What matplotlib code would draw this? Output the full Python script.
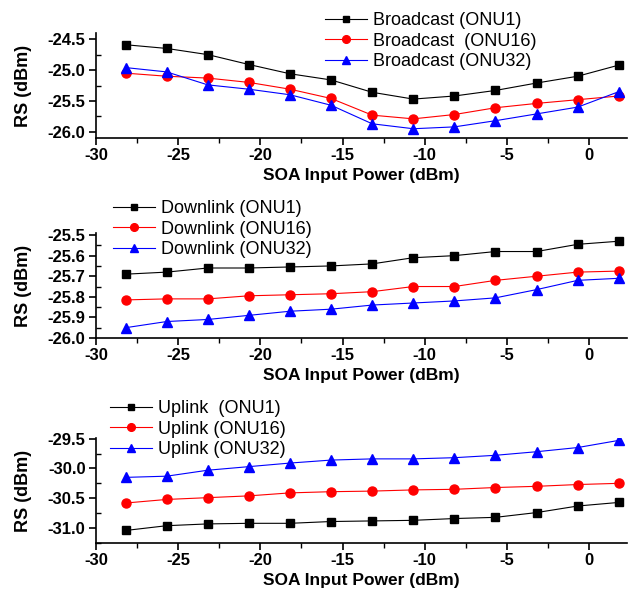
import matplotlib
matplotlib.use("Agg")
import matplotlib.pyplot as plt
from matplotlib.ticker import MultipleLocator, FormatStrFormatter

plt.rcParams['font.family'] = ['Liberation Sans', 'DejaVu Sans']
plt.rcParams['axes.unicode_minus'] = False

soa_power = [-28.2, -25.7, -23.2, -20.7, -18.2, -15.7, -13.2, -10.7, -8.2, -5.7, -3.2, -0.7, 1.8]

broadcast_onu1 = [-24.59, -24.65, -24.75, -24.91, -25.06, -25.16, -25.36, -25.47, -25.42, -25.33, -25.21, -25.10, -24.92]
broadcast_onu16 = [-25.05, -25.10, -25.13, -25.20, -25.31, -25.46, -25.73, -25.79, -25.72, -25.61, -25.54, -25.48, -25.42]
broadcast_onu32 = [-24.96, -25.03, -25.24, -25.31, -25.40, -25.57, -25.87, -25.95, -25.92, -25.82, -25.71, -25.60, -25.35]

downlink_onu1 = [-25.69, -25.68, -25.66, -25.66, -25.655, -25.65, -25.64, -25.61, -25.60, -25.58, -25.58, -25.545, -25.53]
downlink_onu16 = [-25.815, -25.81, -25.81, -25.795, -25.79, -25.785, -25.775, -25.75, -25.75, -25.72, -25.70, -25.68, -25.675]
downlink_onu32 = [-25.95, -25.92, -25.91, -25.89, -25.87, -25.86, -25.84, -25.83, -25.82, -25.805, -25.765, -25.72, -25.71]

uplink_onu1 = [-31.04, -30.96, -30.93, -30.92, -30.92, -30.89, -30.88, -30.87, -30.84, -30.82, -30.74, -30.63, -30.57]
uplink_onu16 = [-30.58, -30.52, -30.49, -30.46, -30.41, -30.39, -30.38, -30.36, -30.35, -30.32, -30.30, -30.27, -30.25]
uplink_onu32 = [-30.15, -30.13, -30.03, -29.97, -29.91, -29.86, -29.84, -29.84, -29.82, -29.78, -29.72, -29.65, -29.53]

labels_b = ["Broadcast (ONU1)", "Broadcast  (ONU16)", "Broadcast (ONU32)"]
labels_d = ["Downlink (ONU1)", "Downlink (ONU16)", "Downlink (ONU32)"]
labels_u = ["Uplink  (ONU1)", "Uplink (ONU16)", "Uplink (ONU32)"]

W, H = 628, 592
fig = plt.figure(figsize=(W / 100, H / 100), dpi=100)

def ax_rect(top_px, bot_px):
    left = 96 / W
    right = 627 / W
    return [left, 1 - bot_px / H, right - left, (bot_px - top_px) / H]

panels = [
    dict(rect=ax_rect(33, 138), series=[broadcast_onu1, broadcast_onu16, broadcast_onu32],
         labels=labels_b, ylim=(-26.10, -24.40), major=0.5, minor=0.25,
         leg=(325 / W, 1 - 12 / H)),
    dict(rect=ax_rect(233, 338), series=[downlink_onu1, downlink_onu16, downlink_onu32],
         labels=labels_d, ylim=(-26.0, -25.49), major=0.1, minor=0.05,
         leg=(113 / W, 1 - 200 / H)),
    dict(rect=ax_rect(438, 543), series=[uplink_onu1, uplink_onu16, uplink_onu32],
         labels=labels_u, ylim=(-31.25, -29.49), major=0.5, minor=0.25,
         leg=(110 / W, 1 - 400 / H)),
]

colors = ["black", "#ff0000", "#0000ff"]
markers = ["s", "o", "^"]
msizes = [5.5, 6.5, 6.5]

for p in panels:
    ax = fig.add_axes(p["rect"])
    handles = []
    for s, c, m, ms, lab in zip(p["series"], colors, markers, msizes, p["labels"]):
        h, = ax.plot(soa_power, s, color=c, marker=m, markersize=ms, linewidth=0.8,
                     markeredgecolor=c, markerfacecolor=c, label=lab)
        handles.append(h)
    ax.set_xlim(-30, 2.3)
    ax.set_ylim(*p["ylim"])
    ax.xaxis.set_major_locator(MultipleLocator(5))
    ax.xaxis.set_minor_locator(MultipleLocator(2.5))
    ax.yaxis.set_major_locator(MultipleLocator(p["major"]))
    ax.yaxis.set_minor_locator(MultipleLocator(p["minor"]))
    ax.yaxis.set_major_formatter(FormatStrFormatter("%.1f"))
    for side in ["top", "right"]:
        ax.spines[side].set_visible(False)
    for side in ["left", "bottom"]:
        ax.spines[side].set_linewidth(1.2)
    ax.tick_params(which="major", direction="out", length=5, width=1.2, labelsize=12, pad=2.5)
    ax.tick_params(axis="x", which="minor", direction="out", length=3.5, width=1.0)
    ax.tick_params(axis="y", which="minor", direction="in", length=3.5, width=1.0)
    for lbl in ax.get_xticklabels() + ax.get_yticklabels():
        lbl.set_fontweight("bold")
    ax.set_xlabel("SOA Input Power (dBm)", fontsize=12.5, fontweight="bold", labelpad=3)
    ax.set_ylabel("RS (dBm)", fontsize=13, fontweight="bold")
    ax.yaxis.set_label_coords(-0.12, 0.5)
    fig.legend(handles=handles, loc="upper left", bbox_to_anchor=p["leg"],
               bbox_transform=fig.transFigure, frameon=False, fontsize=13,
               handlelength=2.33, handletextpad=0.33, labelspacing=0.2,
               borderpad=0, borderaxespad=0, markerscale=0.85)

fig.savefig("out.png", dpi=100)
